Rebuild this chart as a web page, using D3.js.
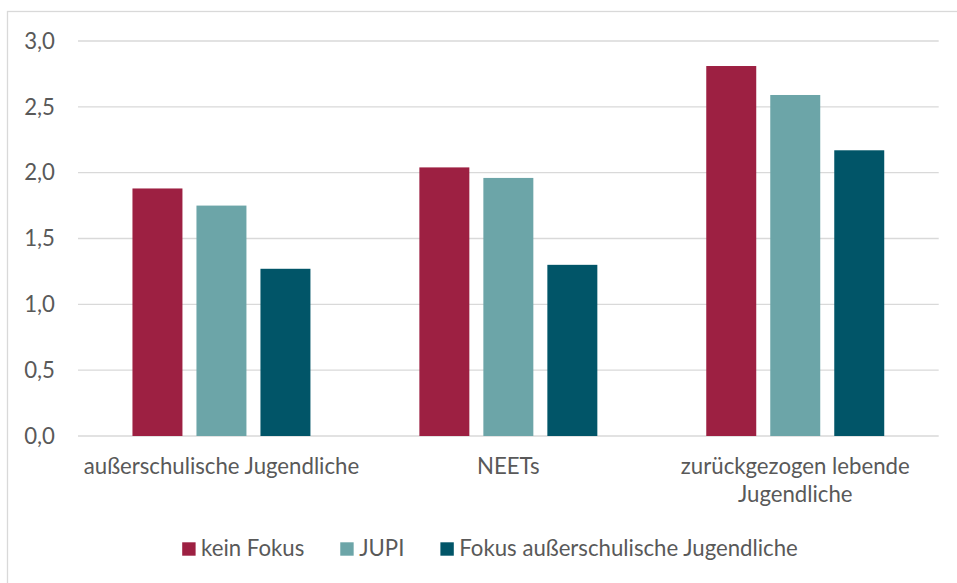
<!DOCTYPE html>
<html>
<head>
<meta charset="utf-8">
<script src="https://cdn.jsdelivr.net/npm/d3@7"></script>
<style>
  html, body { margin: 0; padding: 0; background: #fff; }
  text { font-family: Lato, "Open Sans", sans-serif; fill: #595959; }
</style>
</head>
<body>
<div id="chart"></div>
<script>
// data
var categories = ["außerschulische Jugendliche", "NEETs", "zurückgezogen lebende Jugendliche"];
var seriesNames = ["kein Fokus", "JUPI", "Fokus außerschulische Jugendliche"];
var keinFokus = [1.88, 2.04, 2.81];
var jupi = [1.75, 1.96, 2.59];
var fokusAusser = [1.27, 1.30, 2.17];
var yTicks = [0, 0.5, 1, 1.5, 2, 2.5, 3];

var colors = ["#9d2042", "#6ca5a8", "#015568"];

var width = 957, height = 583;
var margin = {left: 78, right: 18.3, top: 41, bottom: 147};
var fontSize = 22.2;

var seriesValues = [keinFokus, jupi, fokusAusser];
var rows = categories.map(function (c, i) {
    return {cat: c, vals: seriesNames.map(function (s, j) { return {name: s, value: seriesValues[j][i], idx: j}; })};
});

var svg = d3.select("#chart").append("svg")
    .attr("width", width)
    .attr("height", height);

// outer border of the chart area
svg.append("rect")
    .attr("x", 7.5).attr("y", 11.5)
    .attr("width", 1000).attr("height", 700)
    .attr("fill", "#fff")
    .attr("stroke", "#d9d9d9")
    .attr("stroke-width", 1.3);

var x0 = d3.scaleBand()
    .domain(categories)
    .range([margin.left, width - margin.right])
    .paddingInner(0).paddingOuter(0);

var x1 = d3.scaleBand()
    .domain(seriesNames)
    .range([0, x0.bandwidth()])
    .paddingInner(0.219)
    .paddingOuter(0.851);

var y = d3.scaleLinear()
    .domain([0, 3])
    .range([height - margin.bottom, margin.top]);

// gridlines
svg.append("g").attr("class", "grid")
    .selectAll("line").data(yTicks).enter()
    .append("line")
    .attr("x1", margin.left).attr("x2", width - margin.right)
    .attr("y1", function (d) { return y(d); })
    .attr("y2", function (d) { return y(d); })
    .attr("stroke", "#d9d9d9")
    .attr("stroke-width", 1.3);

// y axis labels
var fmt = function (d) { return d3.format(".1f")(d).replace(".", ","); };
svg.append("g").attr("class", "axis y")
    .selectAll("text").data(yTicks).enter()
    .append("text")
    .attr("x", 55)
    .attr("y", function (d) { return y(d); })
    .attr("dy", "0.35em")
    .attr("text-anchor", "end")
    .style("font-size", fontSize + "px")
    .text(fmt);

// bars
var groups = svg.selectAll("g.cat").data(rows).enter()
    .append("g")
    .attr("class", "cat")
    .attr("transform", function (d) { return "translate(" + x0(d.cat) + ",0)"; });

groups.selectAll("rect").data(function (d) { return d.vals; }).enter()
    .append("rect")
    .attr("x", function (d) { return x1(d.name); })
    .attr("width", x1.bandwidth())
    .attr("y", function (d) { return y(d.value); })
    .attr("height", function (d) { return y(0) - y(d.value); })
    .attr("fill", function (d) { return colors[d.idx]; });

// category labels, wrapped to the band width
var catLabels = svg.append("g").attr("class", "axis x")
    .selectAll("text").data(categories).enter()
    .append("text")
    .attr("text-anchor", "middle")
    .style("font-size", fontSize + "px")
    .attr("x", function (d) { return x0(d) + x0.bandwidth() / 2; })
    .attr("y", 474);

catLabels.each(function (d) {
    var el = d3.select(this);
    var words = d.split(" ");
    var lines = [], line = [];
    var tspan = el.append("tspan");
    words.forEach(function (w) {
        line.push(w);
        tspan.text(line.join(" "));
        if (tspan.node().getComputedTextLength() > x0.bandwidth() - 4 && line.length > 1) {
            line.pop();
            lines.push(line.join(" "));
            line = [w];
        }
    });
    lines.push(line.join(" "));
    tspan.remove();
    var cx = x0(d) + x0.bandwidth() / 2;
    lines.forEach(function (l, i) {
        el.append("tspan").attr("x", cx).attr("dy", i === 0 ? 0 : 28).text(l);
    });
});

// legend
var legend = svg.append("g").attr("class", "legend");
var sq = 13.4, gapSq = 5.5, gapItem = 36;
var items = legend.selectAll("g").data(seriesNames).enter().append("g");
items.append("rect")
    .attr("width", sq).attr("height", sq)
    .attr("y", 542.3)
    .attr("fill", function (d, i) { return colors[i]; });
items.append("text")
    .attr("x", sq + gapSq)
    .attr("y", 555.7)
    .style("font-size", fontSize + "px")
    .text(function (d) { return d; });

var offs = [], cur = 0;
items.each(function () {
    offs.push(cur);
    cur += sq + gapSq + d3.select(this).select("text").node().getComputedTextLength() + gapItem;
});
var total = cur - gapItem;
var start = 490 - total / 2;
items.attr("transform", function (d, i) { return "translate(" + (start + offs[i]) + ",0)"; });
</script>
</body>
</html>
